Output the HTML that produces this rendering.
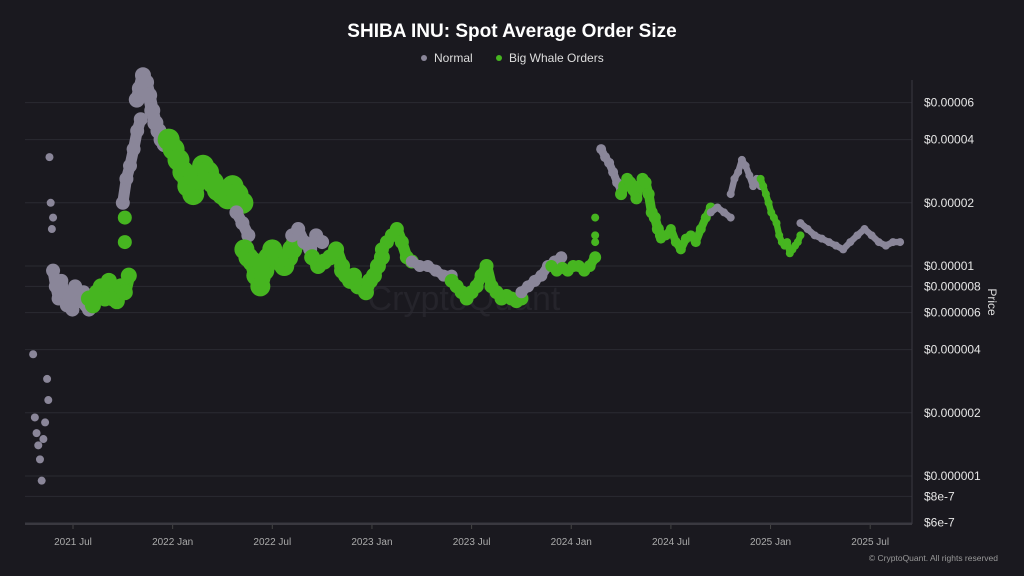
<!DOCTYPE html>
<html><head><meta charset="utf-8"><style>
body{margin:0;background:#1a191f;font-family:"Liberation Sans",sans-serif;}
svg{display:block}
</style></head><body>
<svg id="c" width="1024" height="576">
<rect width="1024" height="576" fill="#1a191f"/>
<text x="512" y="37" text-anchor="middle" fill="#fff" font-size="19" font-weight="bold">SHIBA INU: Spot Average Order Size</text>
<g>
<circle cx="424" cy="58" r="3" fill="#8a8699"/>
<text x="434" y="62" fill="#ddd" font-size="12">Normal</text>
<circle cx="499" cy="58" r="3" fill="#46b520"/>
<text x="509" y="62" fill="#ddd" font-size="12">Big Whale Orders</text>
</g>
<text x="464" y="310" text-anchor="middle" fill="#25242b" font-size="34">CryptoQuant</text>
<g id="grid"></g><g id="pts"></g><g id="axes"></g>
<text transform="translate(988,302) rotate(90)" text-anchor="middle" fill="#ddd" font-size="12">Price</text>
<text x="998" y="561" text-anchor="end" fill="#999" font-size="8.5">© CryptoQuant. All rights reserved</text>
</svg>
<script>
const yTicks=[60,40,20,10,8,6,4,2,1,0.8,0.6];
const yTickLabels=["$0.00006","$0.00004","$0.00002","$0.00001","$0.000008","$0.000006","$0.000004","$0.000002","$0.000001","$8e-7","$6e-7"];
const xTicks=[2021.5,2022,2022.5,2023,2023.5,2024,2024.5,2025,2025.5];
const xTickLabels=["2021 Jul","2022 Jan","2022 Jul","2023 Jan","2023 Jul","2024 Jan","2024 Jul","2025 Jan","2025 Jul"];
// segments: [startYear,endYear,whale(1)/normal(0),radius,prices in 1e-6 USD]
const segStart=[2021.30,2021.37,2021.40,2021.58,2021.76,2021.75,2021.82,2021.98,2022.32,2022.36,2022.60,2022.70,2022.85,2023.05,2023.20,2023.40,2023.75,2023.90,2024.12,2024.15,2024.25,2024.45,2024.70,2024.80,2024.95,2025.15];
const segEnd=[2021.36,2021.40,2021.58,2021.78,2021.76,2021.84,2021.96,2022.35,2022.38,2022.62,2022.75,2022.85,2023.05,2023.20,2023.40,2023.75,2023.95,2024.12,2024.12,2024.25,2024.45,2024.70,2024.80,2024.95,2025.15,2025.65];
const segWhale=[0,0,0,1,1,0,0,1,0,1,0,1,1,1,0,1,0,1,1,0,1,1,0,0,1,0];
const segR=[4,4,7,8,7,7,8,11,7,10,7,8,8,7,6,7,6,6,4,5,6,5,4,4,4,4];
const segJoin=[0,0,1,1,0,1,1,1,1,1,1,1,1,1,1,1,1,1,0,1,1,1,1,1,1,1];
const segPrices=[
[3.8,1.9,1.6,1.4,1.2,0.95,1.5,1.8],
[2.9,2.3,33,20,15,17],
[9.5,8,7,8.5,7.5,6.5,7,6.2,8,7,6.8,7.5,6.5,6.2],
[7,6.5,7.5,8,7,8.5,7,6.8,8,7.5,9],
[17,13],
[20,26,30,36,44,50],
[62,70,81,75,65,55,48,44,40,38],
[40,36,32,28,24,22,26,30,28,25,23,22,21,24,22,20],
[18,16,14],
[12,11,10.5,9,8,9.5,11,12,11,10.5,10,11,12,13],
[14,15,13,12,14,13],
[11,10,10.5,11,12,10],
[9.5,9,8.5,9,8,8,7.5,8.5,9,10,11],
[12,13,14,15,13,11,10.5],
[10.5,10,10,9.5,9,9],
[8.5,8,7.5,7,7.5,8,9,10,8,7.5,7,7.2,7,6.8,7],
[7.5,8,8.5,9,10,10.5,11],
[10,9.5,9.8,9.5,10,10,9.5,10,11],
[17,14,13],
[36,33,31,28,25,23],
[22,24,26,25,23,21,24,26,25,22,18,17,15,14],
[13.5,14,15,13,12,13.5,14,13,15,17,19],
[18,19,18,17],
[22,26,28,32,30,27,24,26,24],
[26,24,22,20,18,17,16,14,13,12.5,13,11.5,12,12.5,13,14],
[16,15,14,13.5,13,12.5,12,13,14,15,14,13,12.5,13,13]];
const NS="http://www.w3.org/2000/svg";
const X0=25,X1=912,Y1=524;
function xs(t){return 73+(t-2021.5)*199.3;}
function ys(p){return 266-210*Math.log10(p/10);}
function mk(tag,attrs,parent){const e=document.createElementNS(NS,tag);for(const k in attrs)e.setAttribute(k,attrs[k]);parent.appendChild(e);return e;}
const grid=document.getElementById('grid'),axes=document.getElementById('axes'),pts=document.getElementById('pts');
yTicks.forEach((v,i)=>{const y=ys(v);
 const l=mk('line',{x1:X0,x2:X1,y1:y,y2:y,stroke:'#2b2a32','stroke-width':1},grid);
 
 
 const t=mk('text',{x:924,y:y+4,fill:'#e6e6e6','font-size':12},axes);t.textContent=yTickLabels[i];
 
 });
xTicks.forEach((v,i)=>{const x=xs(v);
 mk('line',{x1:x,x2:x,y1:Y1,y2:Y1+5,stroke:'#444'},axes);
 const t=mk('text',{x:x,y:545,fill:'#aaa','font-size':10,'text-anchor':'middle'},axes);t.textContent=xTickLabels[i];
 
 });
const xa=mk('line',{x1:X0,x2:X1,y1:Y1,y2:Y1,stroke:'#3a3940','stroke-width':2},axes);


const ya=mk('line',{x1:X1,x2:X1,y1:80,y2:Y1,stroke:'#3a3940','stroke-width':1},axes);


segPrices.forEach((arr,s)=>{const n=arr.length;
 const col=segWhale[s]?'#46b520':'#8a8699';
 const coords=arr.map((p,i)=>{const t=n>1?segStart[s]+(segEnd[s]-segStart[s])*i/(n-1):segStart[s];return [xs(t),ys(p)];});
 if(segJoin[s]){
  const pl=mk('polyline',{points:coords.map(c=>c.join(',')).join(' '),fill:'none',stroke:col,'stroke-width':segR[s]*1.6,'stroke-linecap':'round','stroke-linejoin':'round'},pts);
  
  
 }
 coords.forEach(c=>{
 const e=mk('circle',{cx:c[0],cy:c[1],r:segR[s],fill:col},pts);
 
 });});
</script>
</body></html>
